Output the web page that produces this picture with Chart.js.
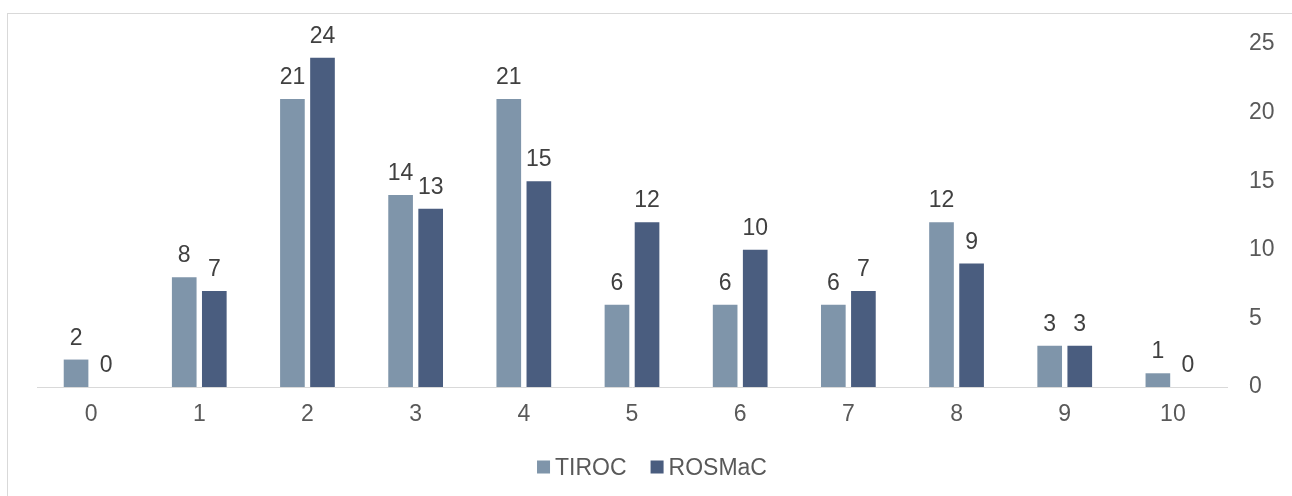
<!DOCTYPE html>
<html>
<head>
<meta charset="utf-8">
<script src="https://cdn.jsdelivr.net/npm/chart.js@4/dist/chart.umd.min.js"></script>
<style>
  html, body { margin: 0; padding: 0; background: #ffffff; }
  #wrap { width: 1292px; height: 496px; position: relative; }
</style>
</head>
<body>
<div id="wrap"><canvas id="c" width="1292" height="496"></canvas></div>
<script>
const categories = ['0', '1', '2', '3', '4', '5', '6', '7', '8', '9', '10'];
const tirocValues = [2, 8, 21, 14, 21, 6, 6, 6, 12, 3, 1];
const rosmacValues = [0, 7, 24, 13, 15, 12, 10, 7, 9, 3, 0];
const yTicks = [0, 5, 10, 15, 20, 25];

const FONT = '"Liberation Sans", Arial, sans-serif';
const FONT_SIZE = 23;

// Thin frame around the whole chart
const framePlugin = {
  id: 'frame',
  beforeDraw(chart) {
    const ctx = chart.ctx;
    ctx.save();
    ctx.strokeStyle = '#d9d9d9';
    ctx.lineWidth = 1;
    ctx.strokeRect(7.5, 13.5, 1400, 600);
    ctx.restore();
  }
};

// Value printed above each bar
const valueLabels = {
  id: 'valueLabels',
  afterDatasetsDraw(chart) {
    const ctx = chart.ctx;
    ctx.save();
    ctx.font = FONT_SIZE + 'px ' + FONT;
    ctx.fillStyle = '#404040';
    ctx.textAlign = 'center';
    ctx.textBaseline = 'alphabetic';
    chart.data.datasets.forEach((ds, i) => {
      chart.getDatasetMeta(i).data.forEach((bar, j) => {
        ctx.fillText(String(ds.data[j]), bar.x, bar.y - 15);
      });
    });
    ctx.restore();
  }
};

// Compact legend: small square, short gap, label
const compactLegend = {
  id: 'compactLegend',
  afterDraw(chart) {
    const ctx = chart.ctx;
    const box = 13, gap = 5, spacing = 24;
    ctx.save();
    ctx.font = FONT_SIZE + 'px ' + FONT;
    const items = chart.data.datasets.map(ds => ({
      text: ds.label, color: ds.backgroundColor,
      w: box + gap + ctx.measureText(ds.label).width
    }));
    const total = items.reduce((s, it) => s + it.w, 0) + spacing * (items.length - 1);
    let x = chart.width / 2 + 6 - total / 2;
    const baseline = 475;
    ctx.textAlign = 'left';
    ctx.textBaseline = 'alphabetic';
    items.forEach(it => {
      ctx.fillStyle = it.color;
      ctx.fillRect(x, baseline - 14.5, box, box);
      ctx.fillStyle = '#595959';
      ctx.fillText(it.text, x + box + gap, baseline);
      x += it.w + spacing;
    });
    ctx.restore();
  }
};

new Chart(document.getElementById('c'), {
  type: 'bar',
  data: {
    labels: categories,
    datasets: [
      { label: 'TIROC', data: tirocValues, backgroundColor: '#7f95aa',
        categoryPercentage: 0.556, barPercentage: 0.82 },
      { label: 'ROSMaC', data: rosmacValues, backgroundColor: '#4a5d7f',
        categoryPercentage: 0.556, barPercentage: 0.82 }
    ]
  },
  options: {
    responsive: false,
    animation: false,
    layout: { padding: { left: 37, right: 0, top: 44, bottom: 51 } },
    plugins: {
      legend: { display: false },
      tooltip: { enabled: false }
    },
    scales: {
      x: {
        grid: { display: false, drawTicks: false },
        border: { display: true, color: '#d9d9d9', width: 1 },
        ticks: { font: { family: FONT, size: FONT_SIZE }, color: '#595959', padding: 14 },
        afterFit(scale) { scale.height = 58; }
      },
      y: {
        position: 'right',
        min: 0,
        max: 25,
        afterBuildTicks(scale) { scale.ticks = yTicks.map(v => ({ value: v })); },
        grid: { display: false, drawTicks: false },
        border: { display: false },
        ticks: { font: { family: FONT, size: FONT_SIZE }, color: '#595959', padding: 22 },
        afterFit(scale) { scale.width = 65; }
      }
    }
  },
  plugins: [framePlugin, valueLabels, compactLegend]
});
</script>
</body>
</html>
